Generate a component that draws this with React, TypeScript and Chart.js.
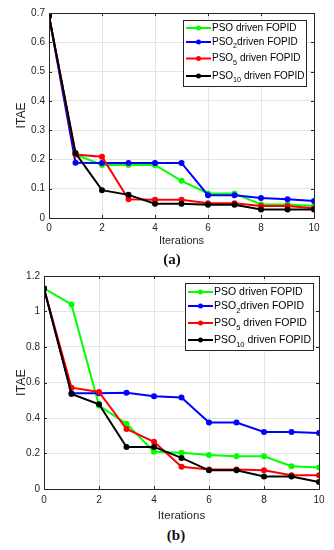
import { useEffect, useRef } from 'react';
import { Chart, registerables } from 'chart.js';

Chart.register(...registerables);

// ---------- data ----------
const iterations = [0, 1, 2, 3, 4, 5, 6, 7, 8, 9, 10];
const seriesNames = ['PSO driven FOPID', 'PSO₂driven FOPID', 'PSO₅ driven FOPID', 'PSO₁₀ driven FOPID'];
const seriesBase = ['PSO', 'PSO', 'PSO', 'PSO'];
const seriesSub = ['', '2', '5', '10'];
const seriesRest = [' driven FOPID', 'driven FOPID', ' driven FOPID', ' driven FOPID'];
const seriesColors = ['#00ff00', '#0000ff', '#ff0000', '#000000'];

const itaeA_PSO = [0.69, 0.217, 0.181, 0.181, 0.181, 0.127, 0.084, 0.084, 0.046, 0.046, 0.041];
const itaeA_PSO2 = [0.69, 0.189, 0.188, 0.188, 0.188, 0.188, 0.078, 0.078, 0.068, 0.064, 0.058];
const itaeA_PSO5 = [0.69, 0.217, 0.209, 0.064, 0.062, 0.062, 0.05, 0.05, 0.041, 0.041, 0.033];
const itaeA_PSO10 = [0.69, 0.222, 0.095, 0.079, 0.049, 0.049, 0.045, 0.045, 0.029, 0.029, 0.029];

const itaeB_PSO = [1.13, 1.04, 0.47, 0.367, 0.21, 0.204, 0.192, 0.184, 0.184, 0.128, 0.121];
const itaeB_PSO2 = [1.13, 0.54, 0.54, 0.542, 0.522, 0.515, 0.375, 0.375, 0.321, 0.321, 0.315];
const itaeB_PSO5 = [1.13, 0.571, 0.547, 0.338, 0.266, 0.125, 0.11, 0.11, 0.106, 0.078, 0.078];
const itaeB_PSO10 = [1.13, 0.535, 0.477, 0.237, 0.237, 0.175, 0.105, 0.105, 0.07, 0.07, 0.04];

const xTicks = [0, 2, 4, 6, 8, 10];
const yTicksA = [0, 0.1, 0.2, 0.3, 0.4, 0.5, 0.6, 0.7];
const yTicksB = [0, 0.2, 0.4, 0.6, 0.8, 1, 1.2];

const xTitle = 'Iterations';
const yTitle = 'ITAE';
const panelLabels = ['(a)', '(b)'];

const FONT = '"Liberation Sans", Arial, Helvetica, sans-serif';
const AXIS_COLOR = '#262626';

// ---------- plugins ----------
const framePlugin = {
  id: 'matlabFrame',
  afterDatasetsDraw(chart: any) {
    const { ctx, chartArea: a, scales } = chart;
    const xs = scales.x;
    const ys = scales.y;
    ctx.save();
    ctx.strokeStyle = AXIS_COLOR;
    ctx.lineWidth = 1;
    ctx.beginPath();
    const tl = 3;
    xs.ticks.forEach((t: any) => {
      const px = Math.round(xs.getPixelForValue(t.value)) + 0.5;
      ctx.moveTo(px, a.bottom);
      ctx.lineTo(px, a.bottom - tl);
      ctx.moveTo(px, a.top);
      ctx.lineTo(px, a.top + tl);
    });
    ys.ticks.forEach((t: any) => {
      const py = Math.round(ys.getPixelForValue(t.value)) + 0.5;
      ctx.moveTo(a.left, py);
      ctx.lineTo(a.left + tl, py);
      ctx.moveTo(a.right, py);
      ctx.lineTo(a.right - tl, py);
    });
    ctx.stroke();
    ctx.strokeRect(Math.round(a.left) + 0.5, Math.round(a.top) + 0.5, Math.round(a.right - a.left), Math.round(a.bottom - a.top));
    ctx.restore();
  },
};

const legendPlugin = {
  id: 'matlabLegend',
  afterDraw(chart: any, _args: any, opts: any) {
    const { ctx, chartArea: a } = chart;
    const fs = opts.fontSize;
    const subFs = fs * 0.72;
    ctx.save();
    const measure = (i: number) => {
      ctx.font = `${fs}px ${FONT}`;
      let w = ctx.measureText(seriesBase[i]).width;
      if (seriesSub[i]) {
        ctx.font = `${subFs}px ${FONT}`;
        w += ctx.measureText(seriesSub[i]).width;
      }
      ctx.font = `${fs}px ${FONT}`;
      w += ctx.measureText(seriesRest[i]).width;
      return w;
    };
    const textStart = 29;
    let maxW = 0;
    seriesNames.forEach((_n, i) => { maxW = Math.max(maxW, measure(i)); });
    const boxW = Math.round(textStart + maxW + 2);
    const right = Math.round(a.right - opts.rightGap);
    const left = right - boxW;
    const top = Math.round(a.top + opts.topGap);
    ctx.fillStyle = '#ffffff';
    ctx.fillRect(left, top, boxW, opts.height);
    ctx.strokeStyle = AXIS_COLOR;
    ctx.lineWidth = 1;
    ctx.strokeRect(left + 0.5, top + 0.5, boxW, opts.height);
    seriesNames.forEach((_n, i) => {
      const y = top + opts.rows[i];
      ctx.strokeStyle = seriesColors[i];
      ctx.lineWidth = 2;
      ctx.beginPath();
      ctx.moveTo(left + 3, y);
      ctx.lineTo(left + 28, y);
      ctx.stroke();
      ctx.fillStyle = seriesColors[i];
      ctx.beginPath();
      ctx.arc(left + 15.5, y, 2.5, 0, Math.PI * 2);
      ctx.fill();
      ctx.fillStyle = '#000000';
      ctx.textBaseline = 'middle';
      ctx.textAlign = 'left';
      let x = left + textStart;
      ctx.font = `${fs}px ${FONT}`;
      ctx.fillText(seriesBase[i], x, y);
      x += ctx.measureText(seriesBase[i]).width;
      if (seriesSub[i]) {
        ctx.font = `${subFs}px ${FONT}`;
        ctx.fillText(seriesSub[i], x, y + fs * 0.45);
        x += ctx.measureText(seriesSub[i]).width;
      }
      ctx.font = `${fs}px ${FONT}`;
      ctx.fillText(seriesRest[i], x, y);
    });
    ctx.restore();
  },
};

// ---------- chart component ----------
type PanelProps = {
  series: number[][];
  yTicks: number[];
  yMax: number;
  top: number;
  height: number;
  padTop: number;
  padRight: number;
  axisW: number;
  axisH: number;
  tickFont: number;
  titleFont: number;
  yTitleFont: number;
  titleBottomPad: number;
  yTitleTopPad: number;
  xTickPad: number;
  legendRightGap: number;
  legendTopGap: number;
  legendFont: number;
  legendRows: number[];
  legendHeight: number;
};

function Panel(p: PanelProps) {
  const ref = useRef<HTMLCanvasElement | null>(null);
  useEffect(() => {
    if (!ref.current) return;
    const datasets = p.series.map((vals, i) => ({
      label: seriesNames[i],
      data: iterations.map((it, k) => ({ x: it, y: vals[k] })),
      borderColor: seriesColors[i],
      backgroundColor: seriesColors[i],
      borderWidth: 2,
      pointRadius: 3,
      pointHoverRadius: 3,
      pointBorderWidth: 0,
      tension: 0,
      order: 4 - i,
    }));
    const chart = new Chart(ref.current, {
      type: 'line',
      data: { datasets },
      plugins: [framePlugin, legendPlugin],
      options: {
        animation: false,
        responsive: false,
        layout: { padding: { top: p.padTop, right: p.padRight, left: 0, bottom: 0 } },
        plugins: {
          legend: { display: false },
          tooltip: { enabled: false },
          matlabLegend: {
            rightGap: p.legendRightGap,
            topGap: p.legendTopGap,
            fontSize: p.legendFont,
            rows: p.legendRows,
            height: p.legendHeight,
          },
        } as any,
        scales: {
          x: {
            type: 'linear',
            min: 0,
            max: 10,
            afterBuildTicks: (s: any) => { s.ticks = xTicks.map((v) => ({ value: v })); },
            afterFit: (s: any) => { s.height = p.axisH; },
            grid: { color: '#e3e3e3', drawTicks: false, lineWidth: 1 },
            border: { display: false },
            ticks: { color: AXIS_COLOR, padding: p.xTickPad, font: { family: FONT, size: p.tickFont }, maxRotation: 0 },
            title: { display: true, text: xTitle, color: AXIS_COLOR, font: { family: FONT, size: p.titleFont }, padding: { top: 0, bottom: p.titleBottomPad } },
          },
          y: {
            type: 'linear',
            min: 0,
            max: p.yMax,
            afterBuildTicks: (s: any) => { s.ticks = p.yTicks.map((v) => ({ value: v })); },
            afterFit: (s: any) => { s.width = p.axisW; },
            grid: { color: '#e3e3e3', drawTicks: false, lineWidth: 1 },
            border: { display: false },
            ticks: {
              color: AXIS_COLOR,
              padding: 4,
              font: { family: FONT, size: p.tickFont },
              callback: (v: any) => String(Math.round(Number(v) * 10) / 10),
            },
            title: { display: true, text: yTitle, color: AXIS_COLOR, font: { family: FONT, size: p.yTitleFont }, padding: { top: p.yTitleTopPad, bottom: 0 } },
          },
        },
      },
    });
    return () => chart.destroy();
  }, []);
  return (
    <div style={{ position: 'absolute', left: 0, top: p.top, width: 334, height: p.height }}>
      <canvas ref={ref} width={334} height={p.height} style={{ width: 334, height: p.height, display: 'block' }} />
    </div>
  );
}

const labelStyle = (cx: number, cy: number): any => ({
  position: 'absolute',
  left: cx - 50,
  top: cy - 9,
  width: 100,
  height: 18,
  lineHeight: '18px',
  textAlign: 'center',
  fontFamily: '"Liberation Serif", "Times New Roman", serif',
  fontWeight: 'bold',
  fontSize: 15,
  color: '#111',
});

export default function App() {
  return (
    <div style={{ position: 'absolute', left: 0, top: 0, width: 334, height: 550, background: '#fff', overflow: 'hidden' }}>
      <Panel
        series={[itaeA_PSO, itaeA_PSO2, itaeA_PSO5, itaeA_PSO10]}
        yTicks={yTicksA}
        yMax={0.7}
        top={0}
        height={250}
        padTop={13}
        padRight={20}
        axisW={49}
        axisH={32}
        tickFont={10}
        titleFont={11}
        yTitleFont={12}
        titleBottomPad={2}
        yTitleTopPad={14.5}
        xTickPad={4}
        legendRightGap={8}
        legendTopGap={7}
        legendFont={10}
        legendRows={[8, 22, 38.5, 56]}
        legendHeight={66}
      />
      <Panel
        series={[itaeB_PSO, itaeB_PSO2, itaeB_PSO5, itaeB_PSO10]}
        yTicks={yTicksB}
        yMax={1.2}
        top={262}
        height={263}
        padTop={14}
        padRight={15}
        axisW={44}
        axisH={36}
        tickFont={10}
        titleFont={11.5}
        yTitleFont={12.5}
        titleBottomPad={2.5}
        yTitleTopPad={14}
        xTickPad={5}
        legendRightGap={6}
        legendTopGap={7}
        legendFont={10.5}
        legendRows={[9, 23, 40, 57]}
        legendHeight={67}
      />
      <div style={labelStyle(172, 259)}>{panelLabels[0]}</div>
      <div style={labelStyle(176, 535)}>{panelLabels[1]}</div>
    </div>
  );
}
